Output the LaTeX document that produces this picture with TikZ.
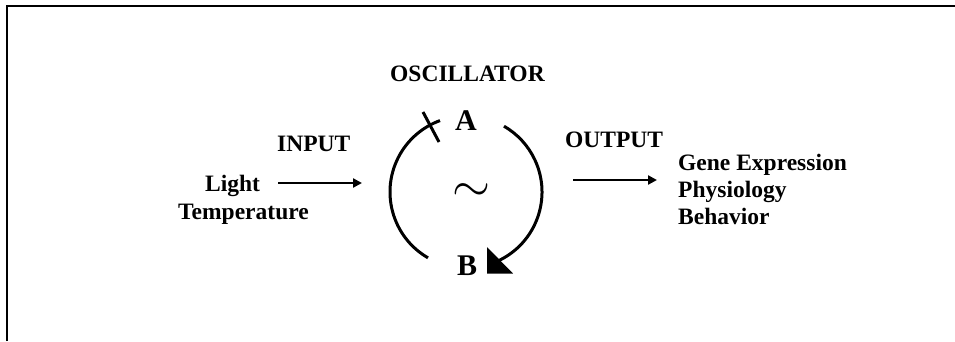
\documentclass[tikz,border=0pt]{standalone}
\usepackage{fontspec}
\usepackage{graphicx}
\setmainfont{Liberation Serif}
\usetikzlibrary{arrows.meta,calc}
\tikzset{
  lbl/.style={font=\fontsize{23.5}{26}\selectfont\bfseries, inner sep=0pt, anchor=base west},
  big/.style={font=\fontsize{30}{32}\selectfont\bfseries, inner sep=0pt, anchor=base},
  conn/.style={line width=2.6pt, -{Triangle[length=9pt,width=9pt]}},
  ring/.style={line width=3pt},
}
\begin{document}
\begin{tikzpicture}[x=1pt,y=-1pt]
\useasboundingbox (0,0) rectangle (955,341);
% frame
\draw[line width=2pt] (6.5,341) -- (6.5,5.5) -- (955,5.5);
% texts
\node[lbl] (osc) at (390,81) {OSCILLATOR};
\node[lbl] (input) at (277,151) {INPUT};
\node[lbl] (light) at (205,191) {Light};
\node[lbl] (temp) at (178,219) {Temperature};
\node[lbl] (output) at (565,147) {OUTPUT};
\node[lbl] (gene) at (678,170) {Gene Expression};
\node[lbl] (phys) at (678,197) {Physiology};
\node[lbl] (behav) at (678,224) {Behavior};
\node[big] (A) at (466,130) {A};
\node[big] (B) at (467,275) {B};
\node[inner sep=0pt] (tilde) at (471,193) {\resizebox{38pt}{!}{$\sim$}};
% oscillator ring
\coordinate (c) at (466,192);
\draw[ring] ($(c)+(120:76)$) arc[start angle=120, end angle=250, radius=76] coordinate (lend);
\draw[ring] ($(c)+(65:76)$) arc[start angle=65, end angle=-60, radius=76] coordinate (rend);
% inhibition bar
\coordinate (tb1) at (423,112);
\coordinate (tb2) at (439,142);
\draw[line width=3pt] (tb1) -- (tb2);
% arrowhead on ring
\fill (487,247) -- (487,273.5) -- (513,273.5) -- cycle;
% input / output arrows
\coordinate (in1) at (278,183);
\coordinate (in2) at (362,183);
\coordinate (out1) at (573,180);
\coordinate (out2) at (657,180);
\draw[conn] (in1) -- (in2);
\draw[conn] (out1) -- (out2);
\end{tikzpicture}
\end{document}
